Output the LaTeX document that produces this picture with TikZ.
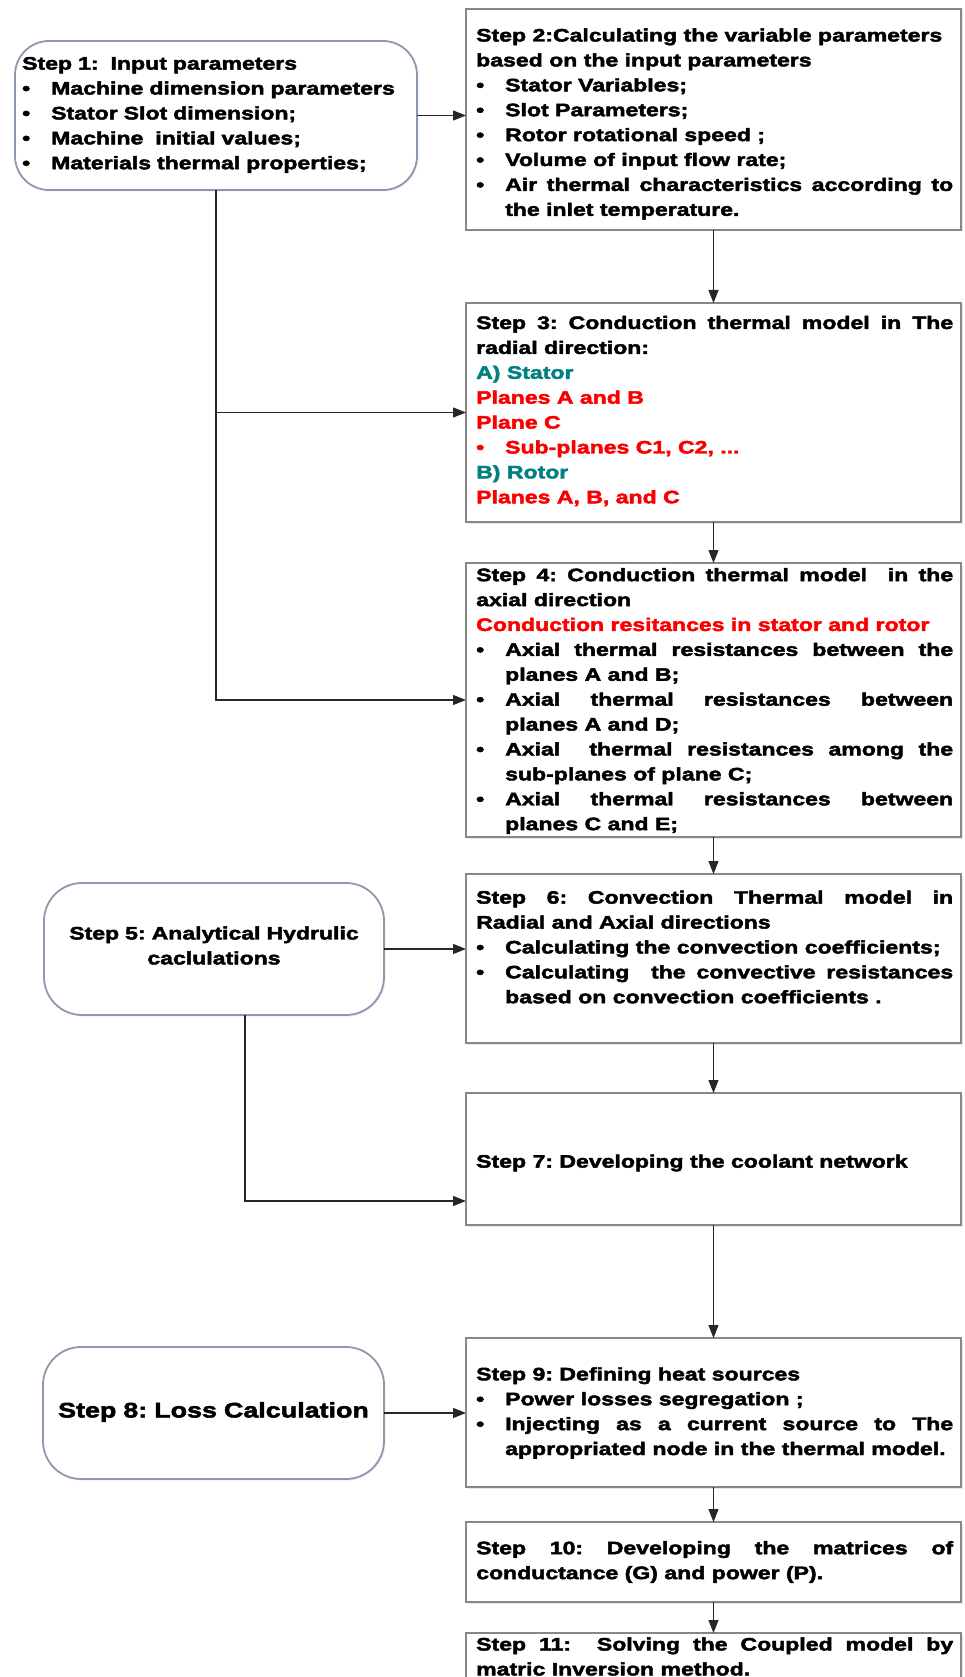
\documentclass[tikz,border=0pt]{standalone}
\usepackage{fontspec}
\setmainfont{Liberation Sans}[FakeStretch=1.28, BoldFeatures={FakeBold=2.5}]
\usetikzlibrary{arrows.meta,shadows}
\definecolor{stepteal}{RGB}{0,128,128}
\definecolor{stepred}{RGB}{250,0,0}
\definecolor{boxgray}{RGB}{135,135,135}
\definecolor{roundgray}{RGB}{140,152,172}
\hyphenpenalty=10000
\exhyphenpenalty=10000
\newcommand\bitem[1]{\par\hangindent=29pt\hangafter=1\noindent\makebox[29pt][l]{\textbullet}#1\par}
\tikzset{
  rectbox/.style={draw=boxgray, line width=1.8pt, fill=white, inner sep=0pt, outer sep=0pt,
    drop shadow={shadow xshift=1.5pt, shadow yshift=-1.5pt, fill=black!18}},
  roundbox/.style={draw=roundgray, line width=1.8pt, fill=white, rounded corners=34pt, inner sep=0pt, outer sep=0pt,
    drop shadow={shadow xshift=1.5pt, shadow yshift=-1.5pt, fill=black!12}},
  txt/.style={inner sep=0pt, anchor=west, align=justify, text width=477pt,
    font=\bfseries\fontsize{18pt}{24.9pt}\selectfont},
  conn/.style={line width=1.3pt, draw=black!85},
  arr/.style={conn, -{Triangle[length=13pt,width=10pt]}}
}
\begin{document}
\frenchspacing
\begin{tikzpicture}[x=1pt,y=-1pt]
\useasboundingbox (0,0) rectangle (965,1677);
% boxes
\node[roundbox, minimum width=402pt, minimum height=149pt] (s1) at (216,115.5) {};
\node[rectbox, minimum width=495pt, minimum height=221pt] (s2) at (713.5,119.5) {};
\node[rectbox, minimum width=495pt, minimum height=219pt] (s3) at (713.5,412.5) {};
\node[rectbox, minimum width=495pt, minimum height=274pt] (s4) at (713.5,700) {};
\node[roundbox, rounded corners=38pt, minimum width=340pt, minimum height=132pt] (s5) at (214,949) {};
\node[rectbox, minimum width=495pt, minimum height=169pt] (s6) at (713.5,958.5) {};
\node[rectbox, minimum width=495pt, minimum height=132pt] (s7) at (713.5,1159) {};
\node[roundbox, rounded corners=38pt, minimum width=341pt, minimum height=132pt] (s8) at (213.5,1413) {};
\node[rectbox, minimum width=495pt, minimum height=149pt] (s9) at (713.5,1412.5) {};
\node[rectbox, minimum width=495pt, minimum height=80pt] (s10) at (713.5,1562) {};
\node[rectbox, minimum width=495pt, minimum height=67pt] (s11) at (713.5,1666.5) {};
% texts
\node[txt, text width=392pt, align=left] (t1) at (22,115) {Step 1:\ \ Input parameters
\bitem{Machine dimension parameters}
\bitem{Stator Slot dimension;}
\bitem{Machine\ \ initial values;}
\bitem{Materials thermal properties;}};
\node[txt] (t2) at (476,124) {Step 2:Calculating the variable parameters\par based on the input parameters
\bitem{Stator Variables;}
\bitem{Slot Parameters;}
\bitem{Rotor rotational speed ;}
\bitem{Volume of input flow rate;}
\bitem{Air thermal characteristics according to\linebreak the inlet temperature.}};
\node[txt] (t3) at (476,411) {Step 3: Conduction thermal model in The\linebreak radial direction:\par
\leavevmode{\color{stepteal}A) Stator}\par
\leavevmode{\color{stepred}Planes A and B}\par
\leavevmode{\color{stepred}Plane C}\par
{\color{stepred}\bitem{Sub-planes C1, C2, ...}}
\leavevmode{\color{stepteal}B) Rotor}\par
\leavevmode{\color{stepred}Planes A, B, and C}};
\node[txt] (t4) at (476,701) {Step 4: Conduction thermal model\ \ in the\linebreak axial direction\par
\leavevmode{\color{stepred}Conduction resitances in stator and rotor}
\bitem{Axial thermal resistances between the\linebreak planes A and B;}
\bitem{Axial thermal resistances between\linebreak planes A and D;}
\bitem{Axial\ \ thermal resistances among the\linebreak sub-planes of plane C;}
\bitem{Axial thermal resistances between\linebreak planes C and E;}};
\node[txt, anchor=center, text width=330pt, align=center] (t5) at (214,945.5) {Step 5: Analytical Hydrulic\par caclulations};
\node[txt] (t6) at (476,947) {Step 6: Convection Thermal model in\linebreak Radial and Axial directions
\bitem{Calculating the convection coefficients;}
\bitem{Calculating\ \ the convective resistances\linebreak based on convection coefficients .}};
\node[txt] (t7) at (476,1163) {Step 7: Developing the coolant network};
\node[txt, anchor=center, text width=335pt, align=center, font=\bfseries\fontsize{21pt}{26pt}\selectfont] (t8) at (213.5,1412) {Step 8: Loss Calculation};
\node[txt] (t9) at (476,1413) {Step 9: Defining heat sources
\bitem{Power losses segregation ;}
\bitem{Injecting as a current source to The\linebreak appropriated node in the thermal model.}};
\node[txt] (t10) at (476,1562) {Step 10: Developing the matrices of\linebreak conductance (G) and power (P).};
\node[txt] (t11) at (476,1656.5) {Step 11:\ \ Solving the Coupled model by\linebreak matric Inversion method.};
% junction coordinates
\coordinate (b5) at (245,1201);
% connectors
\draw[arr] (s1.east) -- (s1.east -| s2.west);
\draw[arr] (s2.south) -- (s3.north);
\draw[arr] (s3.south) -- (s4.north);
\draw[arr] (s4.south) -- (s6.north);
\draw[arr] (s6.south) -- (s7.north);
\draw[arr] (s7.south) -- (s9.north);
\draw[arr] (s9.south) -- (s10.north);
\draw[arr] (s10.south) -- (s11.north);
\draw[arr] (s1.south) -- (s1.south |- s4.west) -- (s4.west);
\draw[arr] (s1.south |- s3.west) -- (s3.west);
\draw[arr] (s5.east) -- (s5.east -| s6.west);
\draw[arr] (b5 |- s5.south) -- (b5) -- (b5 -| s7.west);
\draw[arr] (s8.east) -- (s8.east -| s9.west);
\end{tikzpicture}
\end{document}
